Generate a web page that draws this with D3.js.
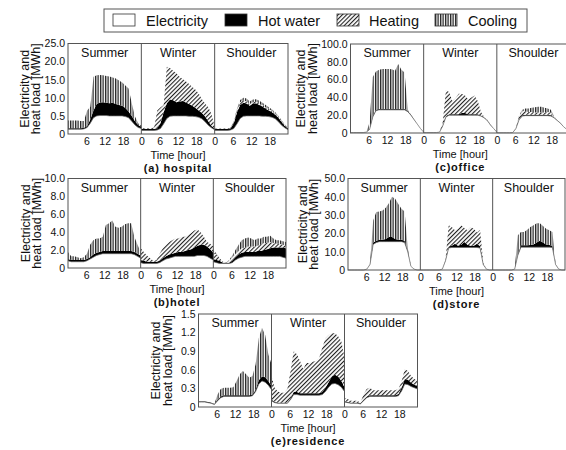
<!DOCTYPE html>
<html>
<head>
<meta charset="utf-8">
<script src="https://cdn.jsdelivr.net/npm/d3@7"></script>
<style>
  body { margin: 0; background: #fff; }
  svg text { font-family: "Liberation Sans", Arial, sans-serif; fill: #111; }
</style>
</head>
<body>
<svg width="566" height="450"></svg>
<script>
const seasons = ["Summer", "Winter", "Shoulder"];
const layerKeys = ["elec", "hot", "heat", "cool"];
const legendLabels = ["Electricity", "Hot water", "Heating", "Cooling"];
const xTicks = [6, 12, 18, 24, 30, 36, 42, 48, 54, 60, 66];

// each series: [summer, winter, shoulder], 24 hourly values in MWh
const hospitalElec = [
  [1.3,1.3,1.3,1.3,1.3,1.4,1.8,3.0,4.5,5.0,5.1,5.1,5.1,5.0,5.0,5.0,5.0,5.0,4.8,4.5,3.5,2.5,1.8,1.5],
  [1.0,1.0,1.0,1.0,1.0,1.1,1.5,2.8,4.3,4.9,5.0,5.0,5.0,5.0,5.0,4.9,4.9,4.8,4.6,4.2,3.4,2.4,1.7,1.2],
  [1.0,1.0,1.0,1.0,1.0,1.1,1.5,2.8,4.3,4.9,5.0,5.0,5.0,5.0,5.0,4.9,4.9,4.8,4.6,4.2,3.4,2.4,1.7,1.2]];
const hospitalHot = [
  [0.3,0.3,0.3,0.3,0.3,0.3,0.4,1.0,2.0,3.3,3.6,3.7,3.5,3.5,3.6,3.3,3.0,2.8,2.4,1.7,1.5,1.0,0.7,0.5],
  [0.4,0.4,0.4,0.4,0.4,0.5,1.5,3.2,4.2,4.6,4.3,3.8,4.0,4.1,3.7,3.4,2.9,2.4,1.9,1.6,1.4,1.1,0.5,0.4],
  [0.4,0.4,0.4,0.4,0.4,0.5,1.5,3.2,3.7,3.7,3.4,2.8,3.4,3.5,3.0,2.7,2.1,1.7,1.4,1.1,1.1,0.9,0.5,0.4]];
const hospitalHeat = [
  [0,0,0,0,0,0,0,0,0,0,0,0,0,0,0,0,0,0,0,0,0,0,0,0],
  [0.2,0.2,0.2,0.2,0.4,4.9,4.3,2.0,10.1,8.7,8.2,8.0,6.8,6.1,5.8,5.5,5.2,5.0,4.7,3.8,3.6,3.9,3.3,0.4],
  [0.1,0.1,0.1,0.1,0.1,0.1,0.3,0.6,0.8,0.7,0.6,0.5,0.4,0.4,0.4,0.4,0.4,0.4,0.4,0.4,0.3,0.3,0.3,0.2]];
const hospitalCool = [
  [2.1,2.1,2.1,2.1,2.0,1.9,4.3,3.5,9.3,7.9,7.6,7.4,7.4,7.4,7.0,7.0,6.8,6.4,6.2,6.4,3.5,1.3,0.5,0.2],
  [0,0,0,0,0,0,0,0,0,0,0,0,0,0,0,0,0,0,0,0,0,0,0,0],
  [0,0,0,0,0,0.1,0.2,0.4,0.6,0.7,0.8,0.7,0.7,0.7,0.8,0.6,0.6,0.5,0.4,0.3,0.2,0.2,0.1,0]];

const officeElec = [
  [0.5,0.5,0.5,0.5,0.5,1,4,18,25,26,26,26,26,26,26,26,26,26,24,20,15,10,5,1],
  [0.5,0.5,0.5,0.5,0.5,1,8,18,20,20,20,20,20,20,20,20,20,20,19,17,14,9,5,1],
  [0.3,0.3,0.3,0.3,0.3,0.5,5,15,19,19.5,19.5,19.5,19.5,19.5,19.5,19.5,19.5,19,17,14,11,7,4,1]];
const officeHot = [
  [0,0,0,0,0,0.2,0.5,1,1,1,1,1,1,1,1,1,1,1,0.8,0.5,0.3,0.2,0.1,0],
  [0,0,0,0,0,0.2,0.5,1,1,1,1,1,2.5,2.5,1,1,1,1,0.8,0.5,0.3,0.2,0.1,0],
  [0,0,0,0,0,0.1,0.3,0.8,1,1,1,1,1,1,1,1,1,1,0.5,0.3,0.2,0.1,0,0]];
const officeHeat = [
  [0,0,0,0,0,0,0,0,0,0,0,0,0,0,0,0,0,0,0,0,0,0,0,0],
  [0,0,0,0,0,0,3.5,29,25,15,18,23,21.5,19.5,17,19,21,15,4.2,0.5,0.7,0,0,0],
  [0,0,0,0,0,0,0.5,3,5,4,3,3,2.5,2.5,2.5,2.5,3,3,0.5,0,0,0,0,0]];
const officeCool = [
  [0,0,0,0,0,0,7.5,44,43,44,45,45,45,44.5,43,50.5,44,41,1.2,0,0,0,0,0],
  [0,0,0,0,0,0,0,0,0,0,0,0,0,0,0,0,0,0,0,0,0,0,0,0],
  [0,0,0,0,0,0,0,1,1,3,4,5,6,6.5,6.5,5.5,4,3,0.5,0,0,0,0,0]];

const hotelElec = [
  [0.8,0.7,0.7,0.7,0.7,0.7,0.8,1.0,1.2,1.4,1.5,1.6,1.6,1.6,1.6,1.6,1.6,1.6,1.6,1.6,1.6,1.5,1.3,1.1],
  [0.6,0.5,0.5,0.5,0.5,0.5,0.6,0.8,1.0,1.1,1.2,1.3,1.3,1.3,1.3,1.3,1.3,1.3,1.4,1.4,1.4,1.3,1.1,0.9],
  [0.7,0.6,0.5,0.5,0.5,0.5,0.6,0.9,1.1,1.2,1.3,1.3,1.3,1.3,1.3,1.3,1.3,1.3,1.3,1.3,1.3,1.3,1.2,1.1]];
const hotelHot = [
  [0.2,0.2,0.2,0.2,0.2,0.2,0.2,0.2,0.3,0.3,0.3,0.3,0.3,0.3,0.3,0.3,0.3,0.3,0.3,0.3,0.3,0.3,0.3,0.3],
  [0.3,0.3,0.2,0.2,0.2,0.2,0.2,0.3,0.3,0.4,0.4,0.4,0.5,0.5,0.6,0.7,0.8,1.0,1.1,1.2,1.2,1.1,1.0,0.8],
  [0.3,0.3,0.3,0.1,0.1,0.1,0.2,0.3,0.4,0.5,0.5,0.5,0.5,0.5,0.6,0.6,0.7,0.8,0.9,1.0,1.0,1.0,1.1,1.1]];
const hotelHeat = [
  [0,0,0,0,0,0,0,0,0,0,0,0,0,0,0,0,0,0,0,0,0,0,0,0],
  [1.3,1.0,0.7,0.4,0.1,0.2,0.8,1.1,1.3,1.4,1.5,1.6,1.5,1.7,1.6,1.7,1.8,1.9,1.8,1.4,0.9,0.5,0.6,0.7],
  [0.8,0.6,0.3,0.1,0,0.2,0.4,0.4,0.4,0.5,0.5,0.6,0.6,0.6,0.6,0.7,0.8,0.7,0.7,0.5,0.4,0.4,0.3,0.3]];
const hotelCool = [
  [0.8,0.4,0.4,0.3,0.2,0.3,0.6,1.4,1.6,1.6,1.5,1.6,2.9,3.1,3.4,2.7,2.6,2.7,3.0,3.1,3.1,1.7,1.0,0.4],
  [0,0,0,0,0,0,0,0,0,0,0,0,0,0,0,0,0,0,0,0,0,0,0,0],
  [0.2,0.1,0,0,0,0.1,0.2,0.4,0.7,0.9,1.0,1.0,0.9,0.7,0.8,0.7,0.7,0.7,0.7,0.5,0.4,0.4,0.4,0.4]];

const storeElec = [
  [0,0,0,0,0,0,0.5,3,14,15,15.5,15.5,15.5,15.5,15.5,15.5,15.5,15.5,15,10,2,0.5,0,0],
  [0,0,0,0,0,0,0,0.5,5,12,12.3,12.3,12.3,12.3,12.3,12.3,12.3,12.3,12.3,12,3,0.5,0,0],
  [0,0,0,0,0,0,0,0.5,8,12.5,12.5,12.5,12.5,12.5,12.5,12.5,12.5,12.5,12.5,12.3,3,0.5,0,0]];
const storeHot = [
  [0,0,0,0,0,0,0,0.2,1,1,1,1,1.5,2.5,2.5,1.5,1,1,1,0.5,0,0,0,0],
  [0,0,0,0,0,0,0,0,0.3,0.8,1.0,2.0,1.0,1.5,3.0,1.5,1.0,1.0,2.0,1.0,0.2,0,0,0],
  [0,0,0,0,0,0,0,0,0.5,1,1,1,1.2,1.5,2.5,3.5,2.5,1.5,1.2,1,0.2,0,0,0]];
const storeHeat = [
  [0,0,0,0,0,0,0,0,0,0,0,0,0,0,0,0,0,0,0,0,0,0,0,0],
  [0,0,0,0,0,0,0,0,0.2,11.7,10.2,7.4,9.2,10.7,7.7,7.9,10.2,9.2,6.2,9,0.8,0,0,0],
  [0,0,0,0,0,0,0,0,0,0,0,0,0,0,0,0,0,0,0,0,0,0,0,0]];
const storeCool = [
  [0,0,0,0,0,0,0,0,12,15.7,15.5,16,17,18.5,22,22,19.5,17,16,1.5,0,0,0,0],
  [0,0,0,0,0,0,0,0,0,0,0,0,0,0,0,0,0,0,0,0,0,0,0,0],
  [0,0,0,0,0,0,0,0,10.5,7.3,7.3,8.5,9.8,10.5,10.5,9.5,9,8.6,8,7.5,0,0,0,0]];

const residenceElec = [
  [0.08,0.08,0.08,0.07,0.06,0.04,0.10,0.15,0.17,0.17,0.17,0.17,0.17,0.17,0.17,0.17,0.17,0.18,0.25,0.37,0.42,0.40,0.35,0.28],
  [0.10,0.07,0.06,0.06,0.06,0.06,0.12,0.20,0.20,0.19,0.19,0.19,0.19,0.19,0.19,0.19,0.20,0.25,0.32,0.37,0.38,0.36,0.32,0.25],
  [0.08,0.07,0.06,0.06,0.06,0.05,0.10,0.15,0.17,0.17,0.17,0.17,0.17,0.17,0.17,0.17,0.17,0.18,0.26,0.37,0.36,0.33,0.31,0.29]];
const residenceHot = [
  [0.01,0.01,0.01,0.01,0.01,0.01,0.02,0.02,0.02,0.02,0.02,0.02,0.02,0.02,0.02,0.02,0.02,0.02,0.03,0.06,0.07,0.08,0.07,0.06],
  [0.02,0.01,0.01,0.01,0.01,0.01,0.02,0.04,0.04,0.03,0.03,0.03,0.03,0.03,0.03,0.03,0.04,0.06,0.08,0.12,0.14,0.13,0.10,0.07],
  [0.01,0.01,0.01,0.01,0.01,0.01,0.02,0.02,0.02,0.02,0.02,0.02,0.02,0.02,0.02,0.02,0.02,0.03,0.05,0.08,0.08,0.06,0.05,0.05]];
const residenceHeat = [
  [0,0,0,0,0,0,0,0,0,0,0,0,0,0,0,0,0,0,0,0,0,0,0,0],
  [0.38,0.23,0.18,0.16,0.16,0.22,0.44,0.66,0.61,0.52,0.39,0.49,0.49,0.51,0.52,0.57,0.71,0.80,0.76,0.70,0.67,0.65,0.64,0.48],
  [0.06,0.05,0.03,0.03,0.03,0.01,0.08,0.12,0.12,0.08,0.08,0.08,0.08,0.08,0.08,0.08,0.08,0.08,0.11,0.16,0.14,0.11,0.09,0.08]];
const residenceCool = [
  [0,0,0,0,0,0,0.08,0.12,0.12,0.12,0.12,0.13,0.23,0.34,0.39,0.34,0.28,0.30,0.41,0.68,0.79,0.68,0.43,0.35],
  [0,0,0,0,0,0,0,0,0,0,0,0,0,0,0,0,0,0,0,0,0,0,0,0],
  [0,0,0,0,0,0,0,0,0,0,0,0,0,0,0,0,0,0,0,0,0,0,0,0]];

const hospitalYTicks = [0, 5, 10, 15, 20, 25];
const hospitalYLabels = ["0", "0.5", "10.0", "15.0", "20.0", "25.0"];
const officeYTicks = [0, 20, 40, 60, 80, 100];
const officeYLabels = ["0", "20.0", "40.0", "60.0", "80.0", "100.0"];
const hotelYTicks = [0, 2, 4, 6, 8, 10];
const hotelYLabels = ["0", "2.0", "4.0", "6.0", "8.0", "10.0"];
const storeYTicks = [0, 10, 20, 30, 40, 50];
const storeYLabels = ["0", "10.0", "20.0", "30.0", "40.0", "50.0"];
const residenceYTicks = [0, 0.3, 0.6, 0.9, 1.2, 1.5];
const residenceYLabels = ["0", "0.3", "0.6", "0.9", "1.2", "1.5"];

const panels = [
  {title: "(a) hospital", elec: hospitalElec, hot: hospitalHot, heat: hospitalHeat, cool: hospitalCool,
   ticks: hospitalYTicks, labels: hospitalYLabels, box: {l: 68, r: 288, t: 43.5, b: 134}, yOff: 44},
  {title: "(c)office", elec: officeElec, hot: officeHot, heat: officeHeat, cool: officeCool,
   ticks: officeYTicks, labels: officeYLabels, box: {l: 350.5, r: 570, t: 44, b: 133}, yOff: 50},
  {title: "(b)hotel", elec: hotelElec, hot: hotelHot, heat: hotelHeat, cool: hotelCool,
   ticks: hotelYTicks, labels: hotelYLabels, box: {l: 68, r: 286, t: 178.5, b: 268}, yOff: 43},
  {title: "(d)store", elec: storeElec, hot: storeHot, heat: storeHeat, cool: storeCool,
   ticks: storeYTicks, labels: storeYLabels, box: {l: 348, r: 565, t: 178.5, b: 270}, yOff: 46},
  {title: "(e)residence", elec: residenceElec, hot: residenceHot, heat: residenceHeat, cool: residenceCool,
   ticks: residenceYTicks, labels: residenceYLabels, box: {l: 198.5, r: 417.5, t: 314, b: 407}, yOff: 43}
];

const svg = d3.select("svg");
const defs = svg.append("defs");

// vertical stripes for cooling
const pCool = defs.append("pattern").attr("id", "pCool")
  .attr("patternUnits", "userSpaceOnUse").attr("width", 2.5).attr("height", 4);
pCool.append("rect").attr("width", 2.5).attr("height", 4).attr("fill", "#fff");
pCool.append("rect").attr("x", 0).attr("width", 1.3).attr("height", 4).attr("fill", "#222");

// diagonal hatch for heating
const pHeat = defs.append("pattern").attr("id", "pHeat")
  .attr("patternUnits", "userSpaceOnUse").attr("width", 3).attr("height", 3)
  .attr("patternTransform", "rotate(45)");
pHeat.append("rect").attr("width", 3).attr("height", 3).attr("fill", "#fff");
pHeat.append("rect").attr("x", 0).attr("width", 1.1).attr("height", 3).attr("fill", "#222");

const fills = {elec: "#fff", hot: "#000", heat: "url(#pHeat)", cool: "url(#pCool)"};

panels.forEach(p => {
  const x = d3.scaleLinear().domain([0, 72]).range([p.box.l, p.box.r]);
  const y = d3.scaleLinear().domain([0, p.ticks[p.ticks.length - 1]]).range([p.box.b, p.box.t]);
  const g = svg.append("g");

  seasons.forEach((s, si) => {
    const rows = d3.range(24).map(i => ({
      x: si * 24 + i * 24 / 23,
      elec: p.elec[si][i], hot: p.hot[si][i], heat: p.heat[si][i], cool: p.cool[si][i]
    }));
    const stacked = d3.stack().keys(layerKeys)(rows);
    const area = d3.area().x(d => x(d.data.x)).y0(d => y(d[0])).y1(d => y(d[1]));
    g.selectAll(null).data(stacked).enter().append("path")
      .attr("d", area)
      .attr("fill", d => fills[d.key])
      .attr("stroke", "none");
    // thin outline on top of electricity
    g.append("path")
      .attr("d", d3.line().x(d => x(d.data.x)).y(d => y(d[1]))(stacked[0]))
      .attr("fill", "none").attr("stroke", "#666").attr("stroke-width", 0.7);

    g.append("text")
      .attr("x", x(si * 24 + 12)).attr("y", p.box.t + 13)
      .attr("text-anchor", "middle").style("font-size", "12.5px")
      .text(s);
  });

  // frame and season separators
  g.append("rect")
    .attr("x", p.box.l).attr("y", p.box.t)
    .attr("width", p.box.r - p.box.l).attr("height", p.box.b - p.box.t)
    .attr("fill", "none").attr("stroke", "#555").attr("stroke-width", 1);
  g.selectAll("line.sep").data([24, 48]).enter().append("line")
    .attr("x1", d => x(d)).attr("x2", d => x(d))
    .attr("y1", p.box.t).attr("y2", p.box.b)
    .attr("stroke", "#555").attr("stroke-width", 1);

  const yAxis = g.append("g").attr("transform", `translate(${p.box.l},0)`)
    .call(d3.axisLeft(y).tickValues(p.ticks).tickFormat((d, i) => p.labels[i]).tickSize(0).tickPadding(3));
  yAxis.select(".domain").remove();
  yAxis.selectAll("text").style("font-size", "10.5px").style("font-family", "Liberation Sans, Arial, sans-serif").attr("fill", "#111");

  const xAxis = g.append("g").attr("transform", `translate(0,${p.box.b})`)
    .call(d3.axisBottom(x).tickValues(xTicks).tickFormat(d => d % 24).tickSize(0).tickPadding(4));
  xAxis.select(".domain").remove();
  xAxis.selectAll("text").style("font-size", "10.5px").style("font-family", "Liberation Sans, Arial, sans-serif").attr("fill", "#111");

  const cx = (p.box.l + p.box.r) / 2;
  g.append("text").attr("x", cx).attr("y", p.box.b + 25)
    .attr("text-anchor", "middle").style("font-size", "11px").text("Time [hour]");
  g.append("text").attr("x", cx).attr("y", p.box.b + 38)
    .attr("text-anchor", "middle").style("font-size", "11px").style("font-weight", "bold")
    .style("letter-spacing", "0.8px").text(p.title);

  const cy = (p.box.t + p.box.b) / 2;
  ["Electricity and", "heat load [MWh]"].forEach((t, i) => {
    g.append("text")
      .attr("transform", `translate(${p.box.l - p.yOff + 4.5 + i * 11.5},${cy}) rotate(-90)`)
      .attr("text-anchor", "middle").style("font-size", "12.5px").text(t);
  });
});

// legend
const legend = svg.append("g");
legend.append("rect").attr("x", 104).attr("y", 9).attr("width", 423).attr("height", 23)
  .attr("fill", "#fff").attr("stroke", "#555");
const swatchX = [113, 225, 337, 435];
const textX = [146, 258, 369, 468];
layerKeys.forEach((k, i) => {
  legend.append("rect").attr("x", swatchX[i]).attr("y", 14).attr("width", 22).attr("height", 12)
    .attr("fill", fills[k]).attr("stroke", "#333").attr("stroke-width", 0.8);
  legend.append("text").attr("x", textX[i]).attr("y", 25.5)
    .style("font-size", "14.5px").text(legendLabels[i]);
});
</script>
</body>
</html>
